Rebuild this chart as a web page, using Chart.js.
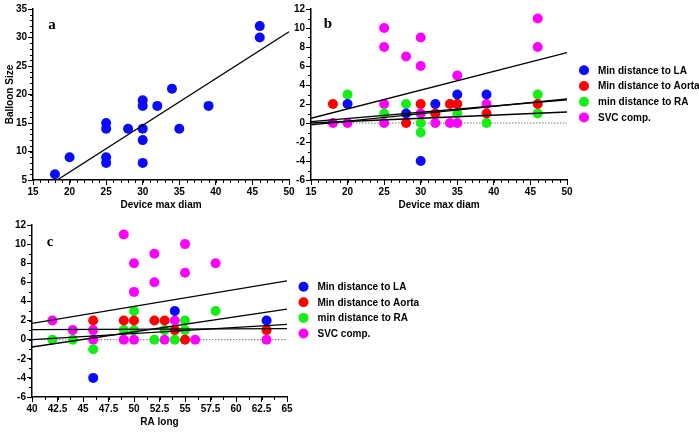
<!DOCTYPE html>
<html>
<head>
<meta charset="utf-8">
<script src="https://cdn.jsdelivr.net/npm/chart.js@4.4.0/dist/chart.umd.min.js"></script>
<style>
html, body { margin: 0; padding: 0; background: #fff; overflow: hidden; width: 699px; height: 441px; }
canvas { position: absolute; }
</style>
</head>
<body>
<canvas id="chartA" width="300" height="215" style="left:0;top:0"></canvas>
<canvas id="chartB" width="409" height="215" style="left:290px;top:0"></canvas>
<canvas id="chartC" width="699" height="226" style="left:0;top:215px"></canvas>
<script>
// panel a: balloon size vs device max diam
const diamA    = [18, 20, 25, 25, 25, 25, 28, 30, 30, 30, 30, 30, 32, 34, 35, 39, 46, 46];
const balloonA = [6, 9, 15, 14, 9, 8, 14, 19, 18, 14, 12, 8, 18, 21, 14, 18, 32, 30];
const fitAx = [18.3, 50];
const fitAy = [5, 31];

// panel b: distances vs device max diam
const laBx    = [20, 28, 30, 32, 35, 39];
const laBy    = [2, 1, -4, 2, 3, 3];
const aortaBx = [18, 28, 30, 32, 34, 35, 39, 46];
const aortaBy = [2, 0, 2, 1, 2, 2, 1, 2];
const raBx    = [20, 25, 28, 30, 30, 35, 39, 46, 46];
const raBy    = [3, 1, 2, 0, -1, 1, 0, 3, 1];
const svcBx   = [18, 20, 25, 25, 25, 25, 28, 30, 30, 30, 32, 34, 35, 35, 39, 46, 46];
const svcBy   = [0, 0, 10, 8, 2, 0, 7, 9, 6, 1, 0, 0, 5, 0, 2, 11, 8];
const fitBx = [15, 50];
const fitBla = [-0.2, 2.55];
const fitBra = [0.15, 2.45];
const fitBaorta = [0, 1.16];
const fitBsvc = [0.5, 7.4];

// panel c: distances vs RA long
const laCx    = [46, 54, 63];
const laCy    = [-4, 3, 2];
const aortaCx = [46, 49, 50, 52, 53, 54, 55, 63];
const aortaCy = [2, 2, 2, 2, 2, 1, 0, 1];
const raCx    = [42, 44, 46, 49, 50, 50, 52, 53, 54, 55, 55, 58];
const raCy    = [0, 0, -1, 1, 3, 1, 0, 1, 0, 2, 1, 3];
const svcCx   = [42, 44, 46, 46, 49, 49, 50, 50, 50, 52, 52, 53, 54, 55, 55, 56, 58, 63];
const svcCy   = [2, 1, 1, 0, 11, 0, 8, 5, 0, 9, 6, 0, 2, 10, 7, 0, 8, 0];
const fitCx = [40, 65];
const fitCsvc = [1.7, 6.15];
const fitCla = [-0.77, 3.2];
const fitCaorta = [1.05, 1.15];
const fitCra = [0, 1.6];

const seriesNames = ['Min distance to LA', 'Min distance to Aorta', 'min distance to RA', 'SVC comp.'];
const seriesColors = ['#0a0aff', '#ff0000', '#14f014', '#ff00ff'];

function pts(xs, ys) {
    return xs.map((x, i) => ({x: x, y: ys[i]}));
}
function dots(label, color, xs, ys) {
    return {label: label, data: pts(xs, ys), backgroundColor: color, borderWidth: 0, pointRadius: 5, pointHoverRadius: 5};
}
function fit(xs, ys) {
    return {data: pts(xs, ys), showLine: true, pointRadius: 0, borderColor: '#000', borderWidth: 1.3, order: -1};
}
function zero(xs) {
    return {data: pts(xs, [0, 0]), showLine: true, pointRadius: 0, borderColor: '#777', borderWidth: 1, borderDash: [1.5, 1.5], order: 5};
}

const minorTicks = {
    id: 'minorTicks',
    afterDraw(chart, args, opts) {
        const ctx = chart.ctx;
        ctx.save();
        ctx.strokeStyle = '#000';
        ctx.lineWidth = 1;
        ['x', 'y'].forEach(k => {
            const sc = chart.scales[k];
            const step = opts[k];
            if (!step) return;
            for (let v = sc.min; v <= sc.max + 1e-9; v += step) {
                const p = Math.round(sc.getPixelForValue(v)) + 0.5;
                ctx.beginPath();
                if (k === 'x') { ctx.moveTo(p, sc.top); ctx.lineTo(p, sc.top + 3); }
                else { ctx.moveTo(sc.right, p); ctx.lineTo(sc.right - 3, p); }
                ctx.stroke();
            }
        });
        ctx.restore();
    }
};

const panelText = {
    id: 'panelText',
    afterDraw(chart, args, opts) {
        const ctx = chart.ctx;
        ctx.save();
        if (opts.letter) {
            ctx.font = 'bold 15px "Liberation Serif", serif';
            ctx.fillStyle = '#000';
            ctx.textAlign = 'center';
            ctx.textBaseline = 'middle';
            ctx.fillText(opts.letter, opts.lx, opts.ly);
        }
        if (opts.legend) {
            const sets = chart.data.datasets.filter(d => d.label);
            ctx.font = 'bold 10px "Liberation Sans", Arial, sans-serif';
            ctx.textAlign = 'left';
            ctx.textBaseline = 'middle';
            sets.forEach((d, i) => {
                const y = opts.legend.y + i * opts.legend.gap;
                ctx.fillStyle = d.backgroundColor;
                ctx.beginPath();
                ctx.arc(opts.legend.x, y, 5, 0, Math.PI * 2);
                ctx.fill();
                ctx.fillStyle = '#000';
                ctx.fillText(d.label, opts.legend.x + 14, y + 0.5);
            });
        }
        ctx.restore();
    }
};

const tickFont = {family: '"Liberation Sans", Arial, sans-serif', size: 10, weight: 'bold'};

function axis(min, max, step, title, fixed, isX, titlePad) {
    return {
        type: 'linear',
        min: min,
        max: max,
        border: {display: true, color: '#000', width: 1.5},
        grid: {display: true, drawOnChartArea: false, drawTicks: true, tickLength: 5, color: '#000', tickColor: '#000'},
        ticks: {stepSize: step, color: '#000', font: tickFont, padding: 1, maxRotation: 0, autoSkip: false},
        title: {display: !!title, text: title, color: '#000', font: tickFont, padding: titlePad},
        afterFit: function(scale) {
            if (isX) scale.height = fixed; else scale.width = fixed;
        }
    };
}

Chart.defaults.animation = false;

new Chart(document.getElementById('chartA'), {
    type: 'scatter',
    data: {
        datasets: [
            fit(fitAx, fitAy),
            {data: pts(diamA, balloonA), backgroundColor: '#0a0aff', borderWidth: 0, pointRadius: 5}
        ]
    },
    options: {
        responsive: false,
        layout: {padding: {left: 0, top: 9, right: 11, bottom: 0}},
        scales: {
            x: axis(15, 50, 5, 'Device max diam', 35, true, {top: 0, bottom: 4}),
            y: axis(5, 35, 5, 'Balloon Size', 33, false, {top: 4, bottom: 0})
        },
        plugins: {
            legend: {display: false},
            tooltip: {enabled: false},
            minorTicks: {x: 1, y: 1},
            panelText: {letter: 'a', lx: 52, ly: 25}
        }
    },
    plugins: [minorTicks, panelText]
});

new Chart(document.getElementById('chartB'), {
    type: 'scatter',
    data: {
        datasets: [
            fit(fitBx, fitBsvc),
            fit(fitBx, fitBla),
            fit(fitBx, fitBra),
            fit(fitBx, fitBaorta),
            dots(seriesNames[0], seriesColors[0], laBx, laBy),
            dots(seriesNames[1], seriesColors[1], aortaBx, aortaBy),
            dots(seriesNames[2], seriesColors[2], raBx, raBy),
            dots(seriesNames[3], seriesColors[3], svcBx, svcBy),
            zero(fitBx)
        ]
    },
    options: {
        responsive: false,
        layout: {padding: {left: 0, top: 9, right: 132, bottom: 0}},
        scales: {
            x: axis(15, 50, 5, 'Device max diam', 35, true, {top: 0, bottom: 4}),
            y: axis(-6, 12, 2, '', 21, false, {top: 0, bottom: 0})
        },
        plugins: {
            legend: {display: false},
            tooltip: {enabled: false},
            minorTicks: {x: 1, y: 1},
            panelText: {letter: 'b', lx: 38, ly: 24, legend: {x: 294, y: 70.3, gap: 15.7}}
        }
    },
    plugins: [minorTicks, panelText]
});

new Chart(document.getElementById('chartC'), {
    type: 'scatter',
    data: {
        datasets: [
            fit(fitCx, fitCsvc),
            fit(fitCx, fitCla),
            fit(fitCx, fitCaorta),
            fit(fitCx, fitCra),
            dots(seriesNames[0], seriesColors[0], laCx, laCy),
            dots(seriesNames[1], seriesColors[1], aortaCx, aortaCy),
            dots(seriesNames[2], seriesColors[2], raCx, raCy),
            dots(seriesNames[3], seriesColors[3], svcCx, svcCy),
            zero(fitCx)
        ]
    },
    options: {
        responsive: false,
        layout: {padding: {left: 0, top: 10, right: 412, bottom: 0}},
        scales: {
            x: axis(40, 65, 2.5, 'RA long', 44, true, {top: 0, bottom: 13}),
            y: axis(-6, 12, 2, '', 32, false, {top: 0, bottom: 0})
        },
        plugins: {
            legend: {display: false},
            tooltip: {enabled: false},
            minorTicks: {x: 1.25, y: 1},
            panelText: {letter: 'c', lx: 50, ly: 27, legend: {x: 303.5, y: 71.7, gap: 15.6}}
        }
    },
    plugins: [minorTicks, panelText]
});
</script>
</body>
</html>
